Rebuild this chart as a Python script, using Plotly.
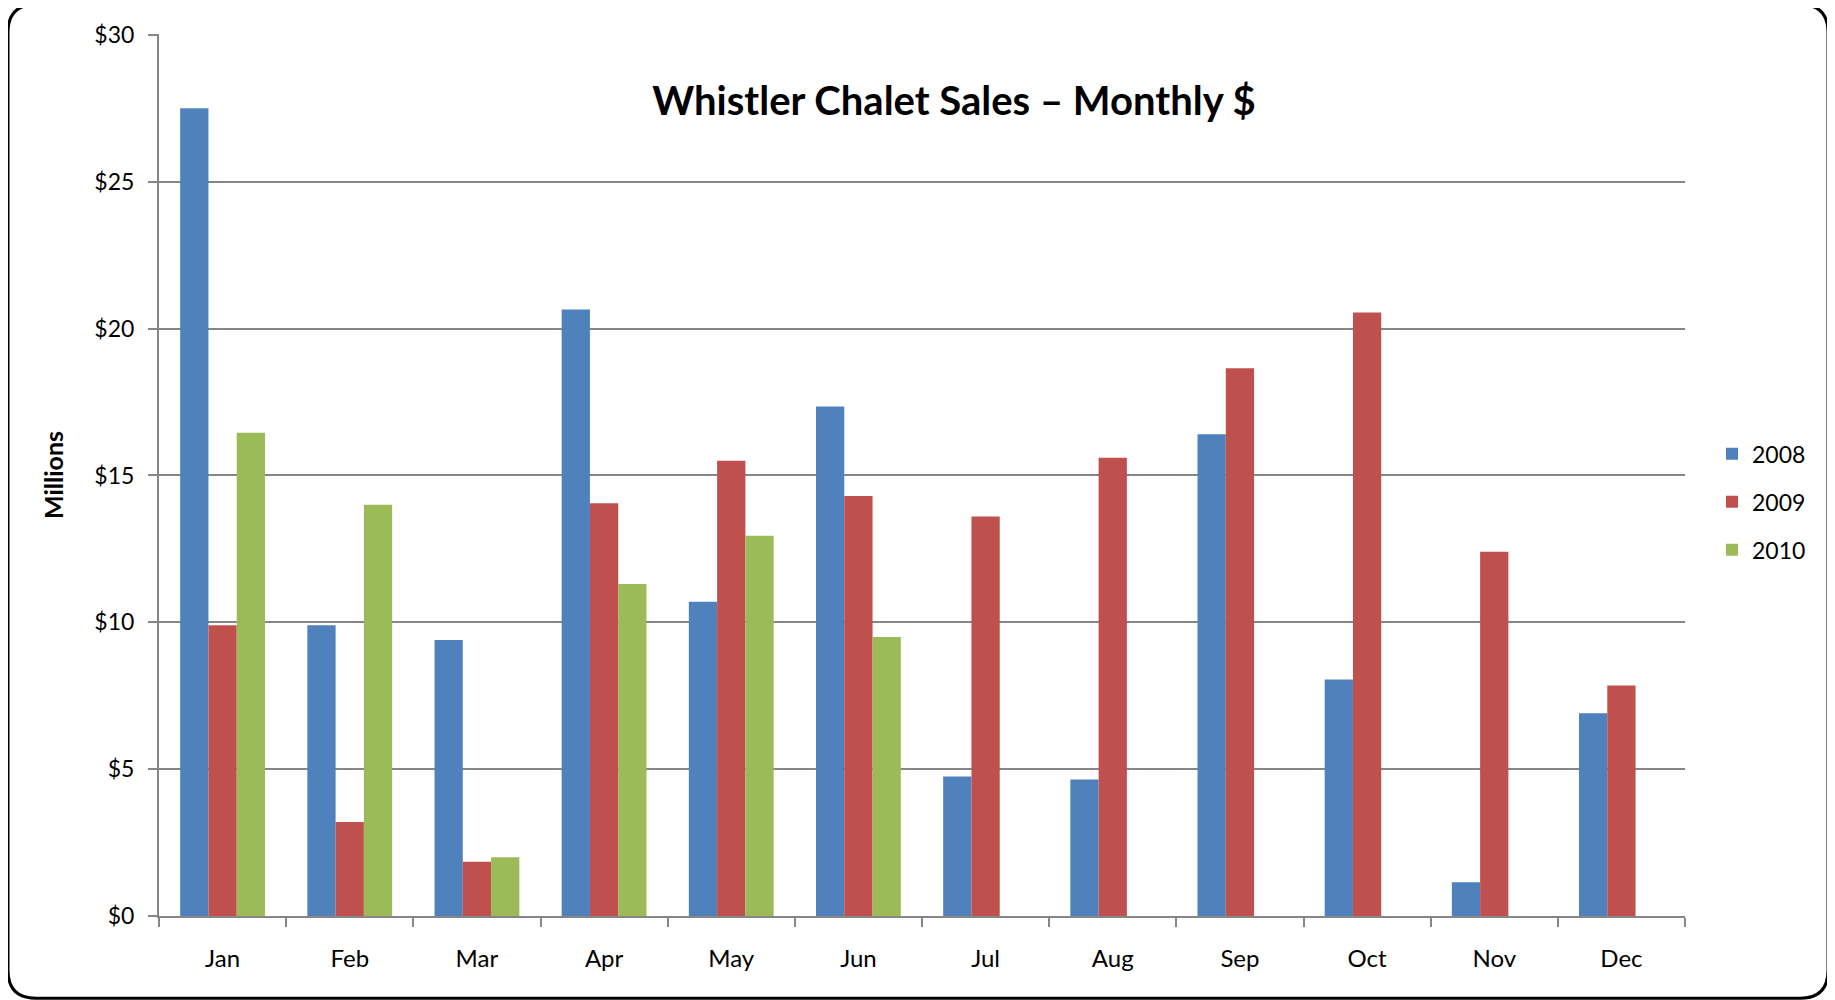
import plotly.graph_objects as go

months = ["Jan", "Feb", "Mar", "Apr", "May", "Jun", "Jul", "Aug", "Sep", "Oct", "Nov", "Dec"]
sales_2008 = [27.5, 9.9, 9.4, 20.65, 10.7, 17.35, 4.75, 4.65, 16.4, 8.05, 1.15, 6.9]
sales_2009 = [9.9, 3.2, 1.85, 14.05, 15.5, 14.3, 13.6, 15.6, 18.65, 20.55, 12.4, 7.85]
sales_2010 = [16.45, 14.0, 2.0, 11.3, 12.95, 9.5, None, None, None, None, None, None]
y_ticks = [0, 5, 10, 15, 20, 25, 30]
y_labels = ["$0", "$5", "$10", "$15", "$20", "$25", "$30"]

font = "Lato, 'Open Sans', sans-serif"
axis_grey = "#868686"

fig = go.Figure()
series = [("2008", sales_2008, "#4F81BD"), ("2009", sales_2009, "#C0504D"), ("2010", sales_2010, "#9BBB59")]
for name, vals, col in series:
    fig.add_trace(go.Bar(x=months, y=vals, name=name, legendgroup=name,
                         marker=dict(color=col, line=dict(width=0))))

# plot area in page pixels: x 159..1685, y 33.5..915.7
# the page body adds an 8px margin, so the figure is 8px smaller and offset
OFF = 8
L, R, T, B = 159, 1685, 33.5, 915.7
W, H = R - L, B - T


def px(x):
    return (x - L) / W


def py(y):
    return (B - y) / H


# rounded outer border
x0, x1, y0, y1 = px(8), px(1828), py(998), py(4)
rx, ry = 28 / W, 28 / H
path = (f"M {x0 + rx},{y1} L {x1 - rx},{y1} Q {x1},{y1} {x1},{y1 - ry} "
        f"L {x1},{y0 + ry} Q {x1},{y0} {x1 - rx},{y0} "
        f"L {x0 + rx},{y0} Q {x0},{y0} {x0},{y0 + ry} "
        f"L {x0},{y1 - ry} Q {x0},{y1} {x0 + rx},{y1} Z")
fig.add_shape(type="path", path=path, xref="paper", yref="paper",
              line=dict(color="black", width=3), layer="above")

fig.update_layout(
    width=1835 - OFF, height=1000 - OFF,
    margin=dict(l=L - OFF, r=1835 - R, t=T - OFF, b=1000 - B, pad=0),
    paper_bgcolor="white", plot_bgcolor="white",
    barmode="group", bargap=0.333, bargroupgap=0,
    font=dict(family=font, size=23, color="black"),
    title=dict(text="<b>Whistler Chalet Sales – Monthly $</b>", x=px(954), xref="paper",
               y=py(101), yref="paper", xanchor="center", yanchor="middle",
               font=dict(family=font, size=40, color="black")),
    legend=dict(x=px(1712), y=py(432), xanchor="left", yanchor="top",
                font=dict(family=font, size=23), traceorder="grouped",
                tracegroupgap=15, bgcolor="rgba(0,0,0,0)"),
    showlegend=True,
)

fig.update_xaxes(showline=True, linecolor=axis_grey, linewidth=2,
                 ticks="outside", tickson="boundaries", ticklen=9, tickwidth=2, tickcolor=axis_grey,
                 showgrid=False, ticklabelstandoff=20, tickfont=dict(size=24))
fig.update_yaxes(range=[0, 30.03], tickvals=y_ticks, ticktext=y_labels,
                 showline=True, linecolor=axis_grey, linewidth=2,
                 ticks="outside", ticklen=9, tickwidth=2, tickcolor=axis_grey,
                 showgrid=True, gridcolor=axis_grey, gridwidth=1.5, zeroline=False,
                 ticklabelstandoff=9, tickfont=dict(size=23),
                 title=dict(text="<b>Millions</b>", font=dict(size=25), standoff=24))

fig.write_html("out.html")
